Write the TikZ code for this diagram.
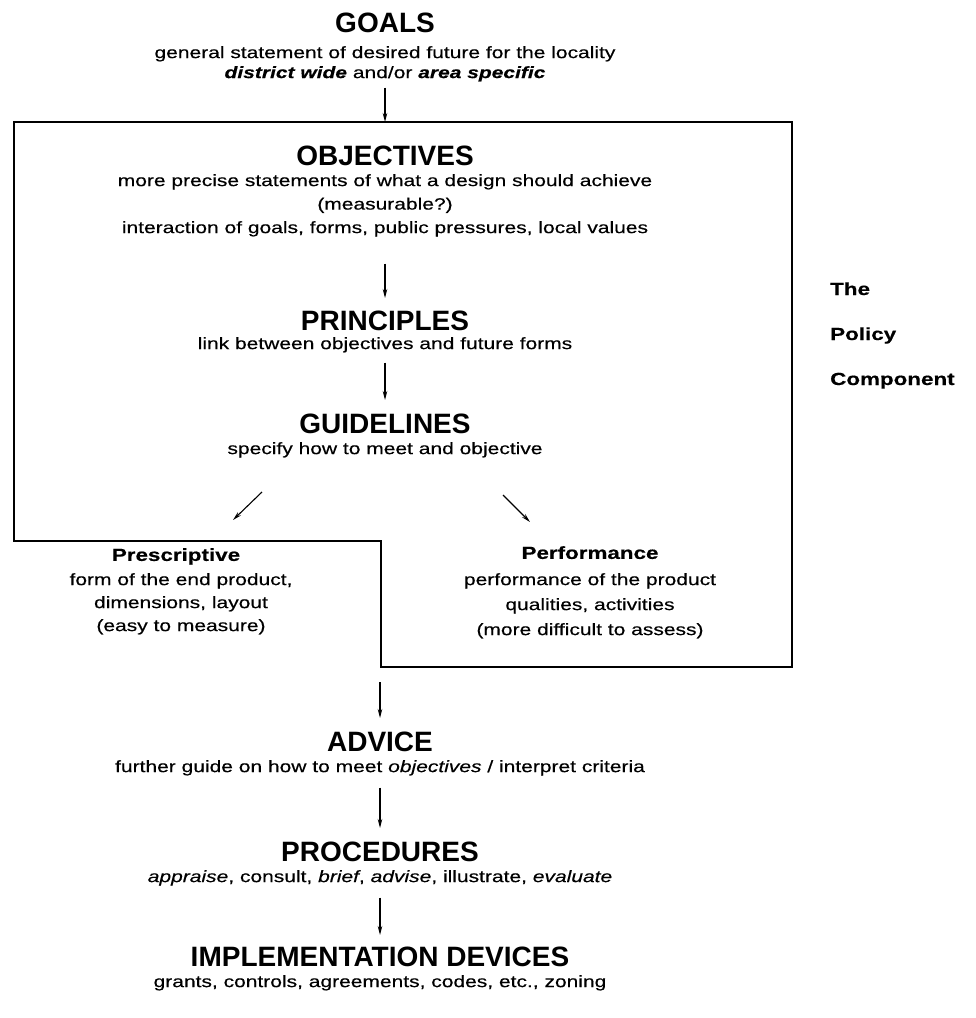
\documentclass[tikz,border=0pt]{standalone}
\usepackage{fontspec}
\setmainfont{Liberation Sans}
\newfontfamily\bodyfam{Liberation Sans}[FakeStretch=1.28,FakeBold=0.4]
\usetikzlibrary{arrows.meta}
\begin{document}
\begin{tikzpicture}[x=1pt,y=-1pt,
  title/.style={font=\fontsize{28}{32}\selectfont\bfseries, inner sep=0pt, anchor=north},
  body/.style={font=\bodyfam\fontsize{16.4}{#1}\selectfont, align=center, inner sep=0pt, anchor=north},
  body/.default=20,
  subhead/.style={font=\bodyfam\fontsize{17.5}{20}\selectfont\bfseries, inner sep=0pt, anchor=north},
  side/.style={font=\bodyfam\fontsize{17.5}{20}\selectfont\bfseries, inner sep=0pt, anchor=base west},
  box/.style={line width=1.3pt, line join=miter},
  arr/.style={line width=1.1pt, -{Stealth[length=9pt,width=4.5pt]}}]
\useasboundingbox (0,0) rectangle (976,1018);
% policy component frame
\draw[box] (14,122) -- (792,122) -- (792,667) -- (381,667) -- (381,541) -- (14,541) -- cycle;
\coordinate (boxtop) at (385,122);
\coordinate (boxbot) at (380,667);
% texts
\node[title] (goalsT) at (385,13) {GOALS};
\node[body=20] (goalsB) at (385,46) {general statement of desired future for the locality\\ \textbf{\textit{district wide}} and/or \textbf{\textit{area specific}}};
\node[title] (objT) at (385,146) {OBJECTIVES};
\node[body=23.5] (objB) at (385,174) {more precise statements of what a design should achieve\\(measurable?)\\interaction of goals, forms, public pressures, local values};
\node[title] (priT) at (385,311) {PRINCIPLES};
\node[body] (priB) at (385,337) {link between objectives and future forms};
\node[title] (guiT) at (385,414) {GUIDELINES};
\node[body] (guiB) at (385,442) {specify how to meet and objective};
\node[subhead] (preT) at (176,548) {Prescriptive};
\node[body=23] (preB) at (181,573) {form of the end product,\\dimensions, layout\\(easy to measure)};
\node[subhead] (perT) at (590,546) {Performance};
\node[body=25] (perB) at (590,573) {performance of the product\\qualities, activities\\(more difficult to assess)};
\node[title] (advT) at (380,732) {ADVICE};
\node[body] (advB) at (380,760) {further guide on how to meet \textit{objectives} / interpret criteria};
\node[title] (proT) at (380,842) {PROCEDURES};
\node[body] (proB) at (380,870) {\textit{appraise}, consult, \textit{brief}, \textit{advise}, illustrate, \textit{evaluate}};
\node[title] (impT) at (380,947) {IMPLEMENTATION DEVICES};
\node[body] (impB) at (380,975) {grants, controls, agreements, codes, etc., zoning};
\node[side] (the) at (830,295) {The};
\node[side] (policy) at (830,340) {Policy};
\node[side] (comp) at (830,385) {Component};
% arrows
\draw[arr, shorten <=6pt] (goalsB.south) -- (boxtop);
\draw[arr, shorten <=27pt, shorten >=13pt] (objB.south) -- (priT.north);
\draw[arr, shorten <=10pt, shorten >=14pt] (priB.south) -- (guiT.north);
\coordinate (dl1) at (262,492); \coordinate (dl2) at (233,520);
\coordinate (dr1) at (503,495); \coordinate (dr2) at (530,522);
\draw[arr] (dl1) -- (dl2);
\draw[arr] (dr1) -- (dr2);
\draw[arr, shorten <=15pt, shorten >=14pt] (boxbot) -- (advT.north);
\draw[arr, shorten <=12pt, shorten >=14pt] (advB.south) -- (proT.north);
\draw[arr, shorten <=12pt, shorten >=12pt] (proB.south) -- (impT.north);
\end{tikzpicture}
\end{document}
